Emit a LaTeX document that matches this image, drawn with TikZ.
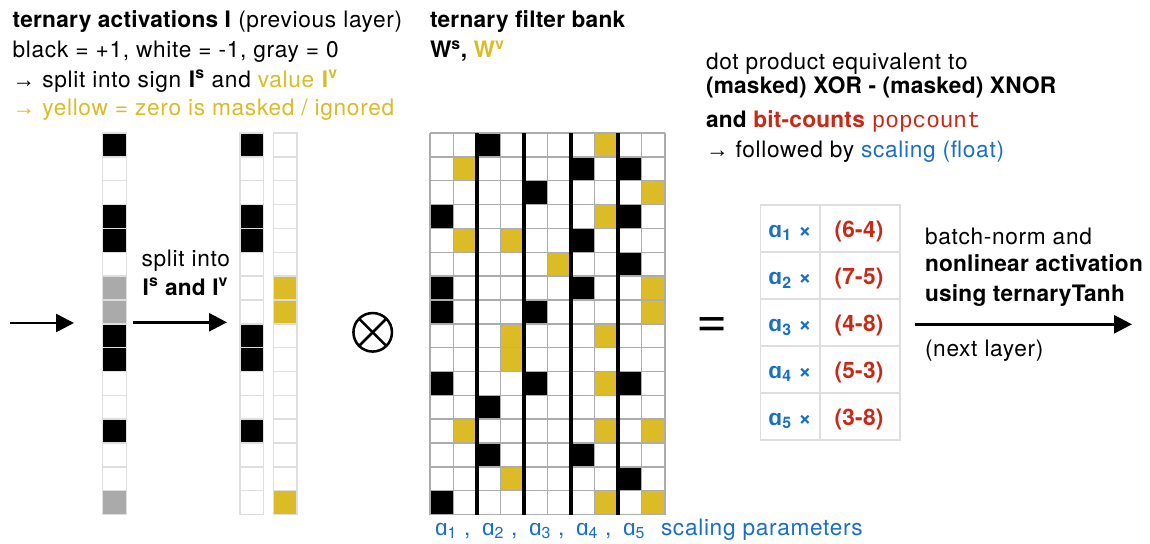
\documentclass[tikz,border=0pt]{standalone}
\usepackage{fontspec}
\setmainfont{TeX Gyre Heros}[LetterSpace=3, BoldFeatures={LetterSpace=1}]
\newfontfamily\libfont{Liberation Sans}
\newfontfamily\codefont{Liberation Mono}
\usetikzlibrary{arrows.meta}
\definecolor{cyel}{RGB}{219,187,38}
\definecolor{cblue}{RGB}{24,110,200}
\definecolor{cred}{RGB}{200,40,20}
\definecolor{cgray}{RGB}{170,170,170}
\definecolor{gridline}{RGB}{172,172,172}
\definecolor{colline}{RGB}{222,222,222}
\newcommand\alf[1]{{\libfont ɑ}\textsubscript{#1}}
\newcommand\arr{{\libfont →}}
\begin{document}
\begin{tikzpicture}[x=0.75pt,y=-0.75pt,
  txt/.style={anchor=base west, inner sep=0pt, outer sep=0pt, font=\fontsize{17}{20}\selectfont},
  ctxt/.style={anchor=base, inner sep=0pt, outer sep=0pt, font=\fontsize{17}{20}\selectfont\bfseries},
  colcell/.style={draw=colline, line width=1.1pt},
  gline/.style={draw=gridline, line width=1.1pt},
  sepbar/.style={draw=black, line width=2.5pt},
  arrowline/.style={line width=2pt, -{Triangle[length=13.5pt,width=13.5pt]}},
]
\useasboundingbox (0,0) rectangle (1150,543);

% ---------- top-left text ----------
\node[txt] (tl1) at (12.7,27.5) {\textbf{ternary activations I} (previous layer)};
\node[txt] (tl2) at (12.7,57.5) {black = +1, white = -1, gray = 0};
\node[txt] (tl3) at (12.7,87) {\arr\ split into sign \textbf{I\textsuperscript{s}} and \textcolor{cyel}{value \textbf{I\textsuperscript{v}}}};
\node[txt, text=cyel] (tl4) at (12.7,115.5) {\arr\ yellow = zero is masked / ignored};

% ---------- filter bank title ----------
\node[txt] (fb1) at (430,27.5) {\textbf{ternary filter bank}};
\node[txt] (fb2) at (430,57.5) {\textbf{W\textsuperscript{s}, \textcolor{cyel}{W\textsuperscript{v}}}};

% ---------- top-right text ----------
\node[txt] (tr1) at (706,69.5) {dot product equivalent to};
\node[txt] (tr2) at (706,93.5) {\textbf{(masked) XOR - (masked) XNOR}};
\node[txt] (tr3) at (706,127.5) {\textbf{and \textcolor{cred}{bit-counts}} \textcolor{cred}{\codefont popcount}};
\node[txt] (tr4) at (706,157.5) {\arr\ followed by \textcolor{cblue}{scaling (float)}};

% ---------- input column I ----------
\foreach \f [count=\i] in {black,white,white,black,black,white,cgray,cgray,black,black,white,white,black,white,white,cgray}
  \draw[colcell, fill=\f] (102.7,{133+(\i-1)*23.85}) rectangle ++(24,23.85);
% ---------- sign column ----------
\foreach \f [count=\i] in {black,white,white,black,black,white,white,white,black,black,white,white,black,white,white,white}
  \draw[colcell, fill=\f] (240,{133+(\i-1)*23.85}) rectangle ++(23.5,23.85);
% ---------- value column ----------
\foreach \f [count=\i] in {white,white,white,white,white,white,cyel,cyel,white,white,white,white,white,white,white,cyel}
  \draw[colcell, fill=\f] (273.3,{133+(\i-1)*23.85}) rectangle ++(23.5,23.85);

% ---------- arrows on the left ----------
\coordinate (a0) at (10,323);
\coordinate (a1) at (74,323);
\draw[arrowline] (a0) -- (a1);
\coordinate (b0) at (132.7,322.3);
\coordinate (b1) at (227,322.3);
\draw[arrowline] (b0) -- (b1);
\node[txt] (sp1) at (141.7,266.7) {split into};
\node[txt] (sp2) at (142.7,295) {\textbf{I\textsuperscript{s} and I\textsuperscript{v}}};

% ---------- otimes ----------
\node[circle, draw, line width=1.9pt, minimum size=28.9pt, inner sep=0pt, outer sep=0pt] (ot) at (372.7,332.3) {};
\draw[line width=1.9pt] (ot.north west) -- (ot.south east);
\draw[line width=1.9pt] (ot.north east) -- (ot.south west);

% ---------- filter grid ----------
\fill[white] (430,133) rectangle (665,514.6);
\foreach \r/\c/\f in {1/3/black,1/8/cyel,
  2/2/cyel,2/7/black,2/9/black,
  3/5/black,3/10/cyel,
  4/1/black,4/8/cyel,4/9/black,
  5/2/cyel,5/4/cyel,5/7/black,
  6/6/cyel,6/9/black,
  7/1/black,7/7/black,7/10/cyel,
  8/1/black,8/5/black,8/10/cyel,
  9/4/cyel,9/8/cyel,
  10/4/cyel,
  11/1/black,11/5/black,11/8/cyel,11/9/black,
  12/3/black,
  13/2/cyel,13/8/cyel,13/10/cyel,
  14/3/black,14/7/black,
  15/4/cyel,15/9/black,
  16/1/black,16/8/cyel,16/10/cyel}
  \fill[\f] ({430+(\c-1)*23.5},{133+(\r-1)*23.85}) rectangle ++(23.5,23.85);
\foreach \k in {0,...,10}
  \draw[gline] ({430+\k*23.5},133) -- ({430+\k*23.5},514.6);
\foreach \k in {0,...,16}
  \draw[gline] (430,{133+\k*23.85}) -- (665,{133+\k*23.85});
\foreach \k in {2,4,6,8}
  \draw[sepbar] ({430+\k*23.5},133) -- ({430+\k*23.5},514.6);

% ---------- scaling parameters ----------
\foreach \i in {1,...,4}
  \node[txt, text=cblue] (al\i) at ({435+(\i-1)*47},535) {\alf{\i} ,};
\node[txt, text=cblue] (al5) at (623,535) {\alf{5}};
\node[txt, text=cblue] (scp) at (661,535) {scaling parameters};

% ---------- equals ----------
\node[inner sep=0pt, font=\fontsize{40}{40}\selectfont] (eq) at (712,327) {=};

% ---------- result table ----------
\foreach \k [evaluate=\k as \yy using 205+\k*47] in {0,...,4} {
  \draw[colcell] (760.7,\yy) rectangle (820,\yy+47);
  \draw[colcell] (820,\yy) rectangle (900,\yy+47);
}
\foreach \v [count=\i] in {6-4,7-5,4-8,5-3,3-8} {
  \node[ctxt, text=cblue] (ra\i) at (790,{237.5+(\i-1)*47}) {\alf{\i} ×};
  \node[ctxt, text=cred] (rb\i) at (859,{237.5+(\i-1)*47}) {(\v)};
}

% ---------- right text and arrow ----------
\node[txt] (rt1) at (925,244) {batch-norm and};
\node[txt] (rt2) at (925,271.7) {\textbf{nonlinear activation}};
\node[txt] (rt3) at (925,301.7) {\textbf{using ternaryTanh}};
\node[txt] (rt4) at (925,356) {(next layer)};
\coordinate (c0) at (915,324.3);
\coordinate (c1) at (1132,324.3);
\draw[arrowline] (c0) -- (c1);
\end{tikzpicture}
\end{document}
